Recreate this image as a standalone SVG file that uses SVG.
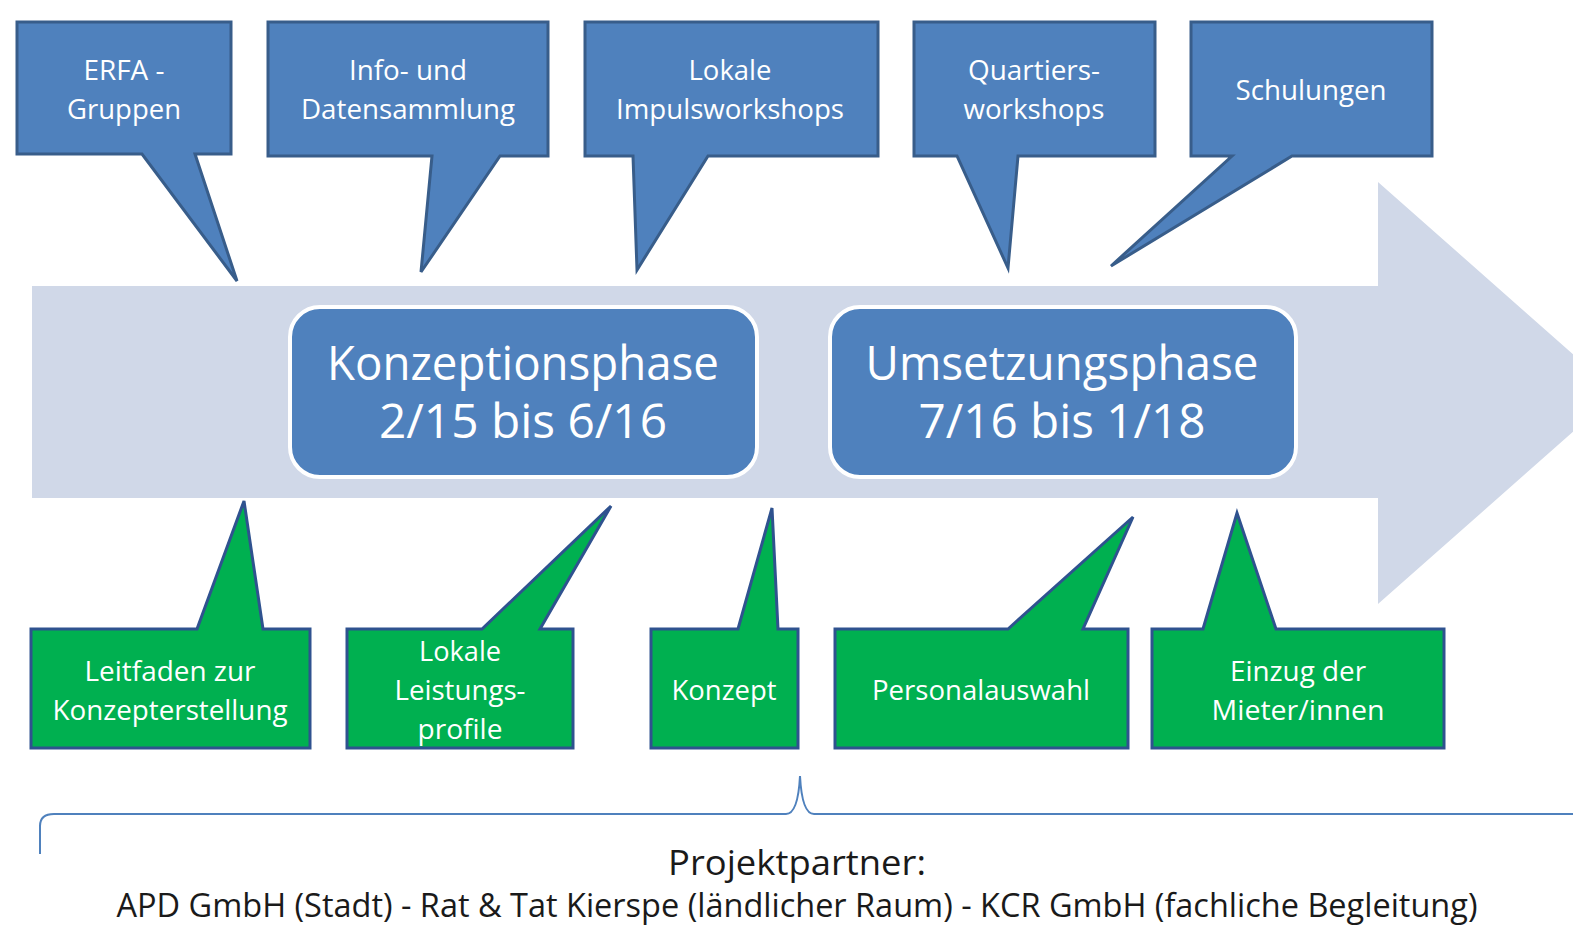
<svg xmlns="http://www.w3.org/2000/svg" width="1573" height="926" viewBox="0 0 1573 926">
<style>
.blue{fill:#4f81bd;stroke:#385d8a;stroke-width:3;stroke-linejoin:miter}
.green{fill:#00b050;stroke:#2f528f;stroke-width:3;stroke-linejoin:miter}
.phase{fill:#4f81bd;stroke:#ffffff;stroke-width:4}
.t{font-family:"Open Sans","Liberation Sans",sans-serif;fill:#ffffff;text-anchor:middle;font-size:27px}
.big{font-family:"Open Sans","Liberation Sans",sans-serif;fill:#ffffff;text-anchor:middle;font-size:48px}
.foot{font-family:"Open Sans","Liberation Sans",sans-serif;fill:#1a1a1a;text-anchor:middle}
</style>
<rect width="1573" height="926" fill="#ffffff"/>
<g id="timeline-arrow">
<path d="M32,286 H1378 V182 L1617,393 L1378,604 V498 H32 Z" fill="#d0d8e8"/>
</g>
<g id="konzeptionsphase">
<rect class="phase" x="290" y="307" width="467" height="170" rx="30"/>
<text class="big" x="523" y="380" textLength="392" lengthAdjust="spacingAndGlyphs">Konzeptionsphase</text>
<text class="big" x="523" y="438" textLength="288" lengthAdjust="spacingAndGlyphs">2/15 bis 6/16</text>
</g>
<g id="umsetzungsphase">
<rect class="phase" x="830" y="307" width="466" height="170" rx="30"/>
<text class="big" x="1062" y="380" textLength="393" lengthAdjust="spacingAndGlyphs">Umsetzungsphase</text>
<text class="big" x="1062" y="438" textLength="287" lengthAdjust="spacingAndGlyphs">7/16 bis 1/18</text>
</g>
<g id="erfa">
<path class="blue" d="M17,22 H231 V154 H195 L237,281 L142,154 H17 Z"/>
<text class="t" x="124" y="80" textLength="81" lengthAdjust="spacingAndGlyphs">ERFA -</text>
<text class="t" x="124" y="119" textLength="114" lengthAdjust="spacingAndGlyphs">Gruppen</text>
</g>
<g id="info">
<path class="blue" d="M268,22 H548 V156 H500 L421,272 L432,156 H268 Z"/>
<text class="t" x="408" y="80" textLength="118" lengthAdjust="spacingAndGlyphs">Info- und</text>
<text class="t" x="408" y="119" textLength="214" lengthAdjust="spacingAndGlyphs">Datensammlung</text>
</g>
<g id="impulsworkshops">
<path class="blue" d="M585,22 H878 V156 H708 L637,270 L633,156 H585 Z"/>
<text class="t" x="730" y="80" textLength="83" lengthAdjust="spacingAndGlyphs">Lokale</text>
<text class="t" x="730" y="119" textLength="228" lengthAdjust="spacingAndGlyphs">Impulsworkshops</text>
</g>
<g id="quartiersworkshops">
<path class="blue" d="M914,22 H1155 V156 H1018 L1008,268 L957,156 H914 Z"/>
<text class="t" x="1034" y="80" textLength="132" lengthAdjust="spacingAndGlyphs">Quartiers-</text>
<text class="t" x="1034" y="119" textLength="141" lengthAdjust="spacingAndGlyphs">workshops</text>
</g>
<g id="schulungen">
<path class="blue" d="M1191,22 H1432 V156 H1292 L1111,266 L1232,156 H1191 Z"/>
<text class="t" x="1311" y="100" textLength="151" lengthAdjust="spacingAndGlyphs">Schulungen</text>
</g>
<g id="leitfaden">
<path class="green" d="M31,629 H197 L244,501 L263,629 H310 V748 H31 Z"/>
<text class="t" x="170" y="681" textLength="171" lengthAdjust="spacingAndGlyphs">Leitfaden zur</text>
<text class="t" x="170" y="720" textLength="235" lengthAdjust="spacingAndGlyphs">Konzepterstellung</text>
</g>
<g id="leistungsprofile">
<path class="green" d="M347,629 H482 L611,506 L540,629 H573 V748 H347 Z"/>
<text class="t" x="460" y="661" textLength="82" lengthAdjust="spacingAndGlyphs">Lokale</text>
<text class="t" x="460" y="700" textLength="131" lengthAdjust="spacingAndGlyphs">Leistungs-</text>
<text class="t" x="460" y="739" textLength="85" lengthAdjust="spacingAndGlyphs">profile</text>
</g>
<g id="konzept">
<path class="green" d="M651,629 H738 L772,508 L778,629 H798 V748 H651 Z"/>
<text class="t" x="724" y="700" textLength="105" lengthAdjust="spacingAndGlyphs">Konzept</text>
</g>
<g id="personalauswahl">
<path class="green" d="M835,629 H1008 L1133,517 L1083,629 H1128 V748 H835 Z"/>
<text class="t" x="981" y="700" textLength="218" lengthAdjust="spacingAndGlyphs">Personalauswahl</text>
</g>
<g id="einzug">
<path class="green" d="M1152,629 H1203 L1237,513 L1276,629 H1444 V748 H1152 Z"/>
<text class="t" x="1298" y="681" textLength="136" lengthAdjust="spacingAndGlyphs">Einzug der</text>
<text class="t" x="1298" y="720" textLength="173" lengthAdjust="spacingAndGlyphs">Mieter/innen</text>
</g>
<g id="connectors">
<path d="M40,854 V826 Q40,814 54,814 H786 Q798,814 800,776 Q802,814 814,814 H1575" fill="none" stroke="#4f81bd" stroke-width="2"/>
</g>
<g id="projektpartner">
<text class="foot" x="797" y="875" font-size="34" textLength="258" lengthAdjust="spacingAndGlyphs">Projektpartner:</text>
<text class="foot" x="797" y="917" font-size="33" textLength="1361" lengthAdjust="spacingAndGlyphs">APD GmbH (Stadt) - Rat &amp; Tat Kierspe (ländlicher Raum) - KCR GmbH (fachliche Begleitung)</text>
</g>
</svg>
